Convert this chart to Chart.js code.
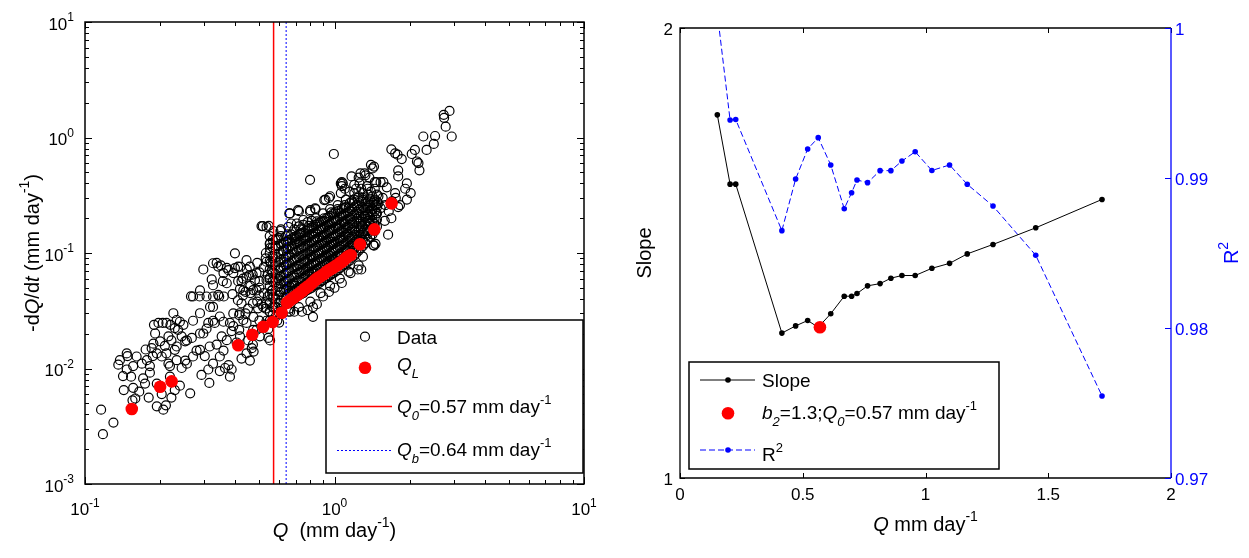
<!DOCTYPE html>
<html>
<head>
<meta charset="utf-8">
<script src="https://cdn.jsdelivr.net/npm/chart.js@4/dist/chart.umd.min.js"></script>
<style>
  html, body { margin: 0; padding: 0; background: #fff; width: 1249px; height: 558px; overflow: hidden; }
  #recession { position: absolute; left: 0; top: 0; }
  #slopefit { position: absolute; left: 620px; top: 0; }
</style>
</head>
<body>
<canvas id="recession" width="610" height="558"></canvas>
<canvas id="slopefit" width="629" height="558"></canvas>
<script>
// ---- Recession data: discharge Q (mm/day) and -dQ/dt (mm/day per day) ----
const lowFlow = [
  [0.116,0.0044],[0.118,0.0027],[0.130,0.0034],[0.136,0.0108],[0.138,0.0118],[0.142,0.0086],[0.143,0.0065],
  [0.147,0.0135],[0.148,0.0128],[0.147,0.0098],[0.153,0.0085],[0.155,0.0053],[0.156,0.0105],[0.156,0.0068],
  [0.159,0.0055],[0.161,0.0127],[0.165,0.0063],[0.169,0.0110],[0.171,0.0082],[0.174,0.0074],[0.175,0.0146],
  [0.177,0.0118],[0.180,0.0056],[0.182,0.0105],[0.182,0.0092],[0.185,0.0150],[0.187,0.0128],[0.188,0.0164],
  [0.189,0.0239],[0.191,0.0201],[0.194,0.0047],[0.194,0.0074],[0.194,0.0135],[0.197,0.0248],[0.200,0.0172],
  [0.203,0.0127],[0.203,0.0060],[0.205,0.0248],[0.206,0.0044],[0.209,0.0157],[0.211,0.0048],[0.212,0.0248],
  [0.212,0.0135],[0.216,0.0110],[0.216,0.0190],[0.219,0.0105],[0.219,0.0085],[0.220,0.0239],[0.222,0.0056],
  [0.222,0.0175],[0.226,0.0301],[0.229,0.0224],[0.229,0.0145],[0.229,0.0065],[0.233,0.0155],[0.233,0.0263],
  [0.233,0.0118],[0.236,0.0216],[0.240,0.0254],[0.240,0.0071],[0.244,0.0190],[0.244,0.0101],[0.248,0.0239],
  [0.252,0.0117],[0.252,0.0172],[0.256,0.0175],[0.256,0.0110],[0.264,0.0061],[0.266,0.0421],[0.268,0.0184],
  [0.271,0.0259],[0.271,0.0127],[0.271,0.0420],[0.280,0.0143],[0.288,0.0420],[0.289,0.0201],[0.289,0.0301],
  [0.289,0.0474],[0.289,0.0145],[0.293,0.0088],[0.298,0.0201],[0.298,0.0720],[0.302,0.0128],[0.307,0.0221],
  [0.307,0.0420],[0.312,0.0248],[0.312,0.0098],[0.315,0.0075],[0.316,0.0155],[0.317,0.0341],[0.322,0.0590],
  [0.326,0.0259],[0.326,0.0341],[0.326,0.0526],[0.326,0.0110],[0.326,0.0815],[0.326,0.0420],[0.331,0.0248],
  [0.337,0.0161],[0.337,0.0820],[0.342,0.0434],[0.342,0.0763],[0.345,0.0420],[0.347,0.0282],[0.347,0.0127],
  [0.347,0.0095],[0.350,0.0780],[0.353,0.0190],[0.357,0.0570],[0.359,0.0143],[0.359,0.0254],[0.359,0.0670],
  [0.360,0.0420],[0.364,0.0101],[0.370,0.0547],[0.370,0.0176],[0.370,0.0744],[0.376,0.0107],[0.376,0.0710],
  [0.381,0.0248],[0.381,0.0085],[0.387,0.0098],[0.387,0.0211],[0.390,0.0440],[0.393,0.0233],[0.393,0.0300],
  [0.393,0.0670],[0.399,0.0994],[0.399,0.0740],[0.405,0.0168],[0.410,0.0390],[0.411,0.0763],[0.411,0.0570],
  [0.415,0.0216],[0.415,0.0290],[0.417,0.0301],[0.418,0.0190],[0.418,0.0490],[0.420,0.0760],[0.424,0.0366],
  [0.424,0.0122],[0.424,0.0570],[0.430,0.0430],[0.430,0.0600],[0.431,0.0474],[0.431,0.0263],[0.440,0.0460],
  [0.440,0.0300],[0.444,0.0248],[0.444,0.0866],[0.444,0.0135],[0.444,0.0620],[0.445,0.0720],[0.450,0.0330],
  [0.451,0.0175],[0.455,0.0640],[0.458,0.0117],[0.458,0.0763],[0.460,0.0520],[0.460,0.0450],[0.466,0.0150],
  [0.470,0.0650],[0.471,0.0366],[0.471,0.0161],[0.472,0.0216],[0.472,0.0478],[0.473,0.0280],[0.474,0.0140],
  [0.480,0.0580],[0.487,0.0474],[0.487,0.0216],[0.487,0.0670],[0.490,0.0380],[0.490,0.0820],[0.494,0.0332],
  [0.500,0.0570],[0.500,0.0260],[0.500,0.0430],[0.500,0.0500],[0.500,0.0680],[0.502,0.0190]
];

const nearBreak = [
  [0.510,0.171],[0.510,0.036],[0.516,0.171],[0.518,0.0341],[0.520,0.045],[0.520,0.075],[0.525,0.024],
  [0.530,0.033],[0.530,0.090],[0.531,0.100],[0.534,0.168],[0.534,0.084],[0.534,0.0584],[0.534,0.0366],
  [0.534,0.0259],[0.540,0.042],[0.540,0.065],[0.543,0.0184],[0.543,0.022],[0.545,0.172],[0.550,0.031],
  [0.550,0.059],[0.551,0.110],[0.552,0.122],[0.552,0.0175],[0.555,0.082],[0.560,0.047],[0.560,0.070],
  [0.565,0.090],[0.569,0.155],[0.570,0.042],[0.580,0.115],[0.588,0.131],[0.590,0.026],[0.605,0.062],
  [0.607,0.155],[0.600,0.025],[0.620,0.030]
];

// dense middle range, grouped by discharge
const coreQ = [0.55,0.58,0.61,0.64,0.66,0.69,0.72,0.75,0.78,0.81,0.84,0.87,0.90,0.93,0.96,0.99,1.03,1.07,1.11,1.15,1.20,1.25,1.30,1.36,1.42,1.48];
const coreRates = [
  [0.026,0.031,0.037,0.044,0.052,0.061,0.072,0.085,0.100,0.120,0.140],
  [0.028,0.034,0.040,0.047,0.056,0.066,0.078,0.092,0.110,0.130],
  [0.033,0.039,0.046,0.054,0.063,0.074,0.087,0.100,0.120,0.140,0.160],
  [0.036,0.042,0.049,0.057,0.067,0.079,0.093,0.110,0.125,0.140],
  [0.033,0.045,0.052,0.060,0.070,0.082,0.096,0.113,0.130],
  [0.040,0.047,0.055,0.064,0.075,0.088,0.100,0.120,0.138,0.160],
  [0.043,0.050,0.058,0.068,0.079,0.092,0.107,0.125,0.145,0.170],
  [0.045,0.052,0.061,0.071,0.083,0.097,0.113,0.130,0.150,0.175],
  [0.048,0.055,0.064,0.075,0.087,0.100,0.118,0.137,0.160,0.185],
  [0.050,0.058,0.068,0.079,0.092,0.107,0.124,0.144,0.167,0.190],
  [0.053,0.061,0.071,0.083,0.096,0.112,0.130,0.150,0.175,0.200],
  [0.055,0.064,0.075,0.087,0.100,0.117,0.136,0.158,0.183],
  [0.058,0.067,0.078,0.091,0.105,0.122,0.142,0.165,0.190,0.220],
  [0.061,0.070,0.082,0.095,0.110,0.128,0.148,0.172,0.200],
  [0.064,0.074,0.086,0.100,0.116,0.134,0.155,0.180,0.210,0.240],
  [0.067,0.077,0.090,0.104,0.120,0.140,0.162,0.188,0.220],
  [0.071,0.082,0.095,0.110,0.127,0.147,0.170,0.197,0.230,0.260],
  [0.076,0.087,0.100,0.116,0.134,0.155,0.180,0.210,0.240],
  [0.080,0.092,0.106,0.123,0.142,0.164,0.190,0.220,0.250,0.290],
  [0.086,0.099,0.114,0.132,0.152,0.175,0.200,0.230,0.270],
  [0.095,0.108,0.124,0.142,0.163,0.187,0.215,0.250,0.290,0.330],
  [0.105,0.120,0.137,0.157,0.180,0.205,0.235,0.270,0.310],
  [0.115,0.130,0.150,0.170,0.195,0.220,0.250,0.290,0.330],
  [0.130,0.148,0.168,0.190,0.215,0.245,0.280,0.320],
  [0.145,0.165,0.190,0.215,0.240,0.270,0.310],
  [0.170,0.195,0.220,0.250,0.280,0.320]
];

// second set of dense-range records lying between the groups above
const coreQMid = [0.565,0.595,0.625,0.65,0.675,0.705,0.735,0.765,0.795,0.825,0.855,0.885,0.915,0.945,0.975,1.01,1.05,1.09,1.13,1.175,1.225,1.275,1.33,1.39,1.45];
const coreRatesMid = [
  [0.029,0.034,0.041,0.048,0.057,0.067,0.079,0.094,0.112,0.130],
  [0.031,0.037,0.043,0.051,0.060,0.071,0.083,0.098,0.115,0.135],
  [0.035,0.041,0.048,0.056,0.065,0.076,0.089,0.104,0.122],
  [0.038,0.044,0.051,0.059,0.069,0.080,0.094,0.108,0.126,0.145],
  [0.041,0.047,0.054,0.063,0.073,0.085,0.099,0.115,0.133],
  [0.042,0.049,0.057,0.066,0.077,0.090,0.104,0.121,0.140],
  [0.044,0.051,0.059,0.069,0.080,0.094,0.109,0.127,0.148],
  [0.047,0.054,0.063,0.073,0.085,0.099,0.115,0.133,0.155],
  [0.049,0.057,0.066,0.077,0.089,0.104,0.121,0.140,0.163],
  [0.052,0.060,0.069,0.081,0.094,0.109,0.127,0.147,0.170],
  [0.054,0.063,0.073,0.085,0.098,0.114,0.133,0.154,0.180],
  [0.057,0.066,0.076,0.089,0.103,0.119,0.139,0.161,0.187],
  [0.060,0.069,0.080,0.093,0.108,0.125,0.145,0.168],
  [0.063,0.072,0.084,0.097,0.113,0.131,0.152,0.176,0.205],
  [0.066,0.076,0.088,0.102,0.118,0.137,0.158,0.184],
  [0.069,0.080,0.092,0.107,0.124,0.143,0.166,0.192,0.225],
  [0.074,0.085,0.098,0.113,0.130,0.151,0.175,0.203],
  [0.078,0.090,0.103,0.119,0.138,0.160,0.185,0.215,0.245],
  [0.084,0.096,0.110,0.127,0.147,0.170,0.196,0.225],
  [0.091,0.104,0.119,0.137,0.158,0.181,0.208,0.240,0.280],
  [0.100,0.114,0.130,0.149,0.171,0.196,0.225,0.260],
  [0.110,0.125,0.143,0.163,0.187,0.213,0.243,0.280],
  [0.122,0.139,0.159,0.181,0.206,0.235,0.268],
  [0.138,0.157,0.179,0.203,0.230,0.260,0.295],
  [0.155,0.178,0.203,0.230,0.260,0.290]
];

// scattered records inside the dense range
const coreScattered = [
  [0.570,0.0335],[0.600,0.058],[0.630,0.083],[0.655,0.047],[0.680,0.108],[0.695,0.052],[0.710,0.0725],
  [0.725,0.118],[0.740,0.056],[0.755,0.088],[0.770,0.128],[0.785,0.069],[0.800,0.096],[0.815,0.062],
  [0.830,0.138],[0.845,0.078],[0.860,0.105],[0.875,0.068],[0.890,0.128],[0.905,0.085],[0.920,0.115],
  [0.935,0.074],[0.950,0.158],[0.965,0.094],[0.980,0.125],[0.995,0.083],[1.020,0.112],[1.040,0.162],
  [1.060,0.094],[1.080,0.127],[1.100,0.178],[1.120,0.105],[1.140,0.138],[1.160,0.195],[1.185,0.120],
  [1.210,0.153],[1.235,0.200],[1.260,0.128],[1.290,0.172],[1.320,0.210],[1.350,0.158],[1.380,0.190],
  [1.410,0.230],[1.440,0.180],[1.470,0.260],[0.620,0.105],[0.640,0.125],[0.670,0.145],[0.700,0.132],
  [0.730,0.160],[0.760,0.142],[0.790,0.172],[0.820,0.155],[0.850,0.188],[0.880,0.170],[0.910,0.200],
  [0.940,0.185],[0.970,0.225],[1.000,0.200],[1.030,0.240],[1.060,0.220],[1.100,0.260],[1.140,0.245],
  [1.190,0.270],[1.240,0.300]
];

const belowEnvelope = [
  [0.653,0.031],[0.664,0.031],[0.690,0.031],[0.720,0.034],[0.740,0.031],[0.780,0.032],[0.800,0.038],
  [0.820,0.028],[0.820,0.034],[0.850,0.036],[0.880,0.045],[0.900,0.042],[0.950,0.046],[0.960,0.052],
  [1.000,0.050],[1.050,0.060],[1.070,0.055],[1.140,0.069],[1.160,0.067],[1.240,0.072],[1.250,0.078],
  [1.280,0.072],[1.300,0.093],[1.430,0.117],[1.440,0.116],[1.460,0.120],[1.640,0.144]
];

const upperScatter = [
  [0.653,0.168],[0.659,0.220],[0.663,0.220],[0.670,0.180],[0.706,0.180],[0.714,0.235],[0.720,0.230],
  [0.727,0.148],[0.750,0.193],[0.798,0.430],[0.798,0.228],[0.800,0.235],[0.836,0.244],[0.840,0.240],
  [0.910,0.287],[0.920,0.290],[0.950,0.300],[0.960,0.310],[0.994,0.720],[1.060,0.400],[1.060,0.330],
  [1.070,0.380],[1.070,0.410],[1.080,0.400],[1.100,0.360],[1.150,0.340],[1.170,0.460],[1.200,0.390],
  [1.220,0.360],[1.250,0.450],[1.260,0.400],[1.270,0.490],[1.280,0.360],[1.300,0.300],[1.320,0.490],
  [1.330,0.470],[1.350,0.380],[1.360,0.360],[1.380,0.450],[1.400,0.340],[1.400,0.580],[1.420,0.540],
  [1.440,0.560],[1.440,0.280],[1.450,0.410],[1.450,0.360],[1.470,0.220],[1.470,0.410],[1.500,0.310],
  [1.500,0.270],[1.530,0.410],[1.530,0.245],[1.560,0.300],[1.570,0.410],[1.590,0.190],[1.600,0.260],
  [1.620,0.370],[1.650,0.230],[1.690,0.200],[1.690,0.790],[1.700,0.280],[1.750,0.730],[1.750,0.330],
  [1.760,0.300],[1.790,0.710],[1.800,0.460],[1.800,0.520],[1.800,0.250],[1.830,0.260],[1.860,0.650],
  [1.920,0.360],[1.950,0.400],[1.950,0.290],[2.020,0.330],[2.040,0.720],[2.100,0.780],[2.140,0.620],
  [2.170,0.600],[2.190,0.520],[2.270,1.020],[2.340,0.780],[2.500,0.880],[2.530,1.030],[2.740,1.570],
  [2.750,1.480],[2.790,1.240],[2.890,1.700],[2.950,1.020]
];

// lower-envelope points Q_L
const qlQ = [0.154,0.200,0.2225,0.4115,0.468,0.518,0.565,0.614,0.645,0.655,0.670,0.685,0.700,0.715,0.730,0.745,0.760,0.775,
             0.790,0.805,0.820,0.835,0.850,0.870,0.890,0.910,0.930,0.950,0.970,0.990,1.010,1.030,1.050,1.070,1.090,1.110,1.130,1.161,
             1.265,1.444,1.694];
const qlRate = [0.00446,0.00696,0.00774,0.0159,0.0196,0.0230,0.0253,0.0304,0.037,0.038,0.0395,0.041,0.0425,0.044,0.0455,0.047,0.049,0.0505,
                0.052,0.054,0.056,0.058,0.060,0.062,0.064,0.066,0.069,0.071,0.073,0.075,0.077,0.079,0.082,0.084,0.087,0.090,0.093,0.0961,
                0.119,0.160,0.269];

const q0 = 0.57;   // break discharge
const qb = 0.64;   // baseflow threshold
const b2 = 1.335;  // fitted slope at Q0

// ---- Slope / R^2 as a function of threshold discharge ----
const slopeQ = [0.152,0.204,0.227,0.415,0.471,0.520,0.563,0.614,0.669,0.699,0.721,0.764,0.815,0.859,0.904,0.958,1.026,1.098,1.170,1.275,1.449,1.719];
const slopeValues = [1.807,1.653,1.653,1.322,1.338,1.350,1.335,1.365,1.404,1.404,1.410,1.427,1.432,1.444,1.450,1.450,1.466,1.477,1.498,1.519,1.556,1.619];
const r2Values = [1.001,0.99387,0.9939,0.98649,0.98993,0.99193,0.99269,0.99087,0.98795,0.98902,0.98987,0.98969,0.99049,0.99049,0.99113,0.99175,0.9905,0.99087,0.98958,0.98813,0.98485,0.97547];

const rightXTicks = [0, 0.5, 1, 1.5, 2];
const slopeTicks = [1, 2];
const r2Ticks = [0.97, 0.98, 0.99, 1];

// ---- text helpers (italics, sub/superscripts) ----
const FONT = '"Liberation Sans", Arial, Helvetica, sans-serif';
function partFont(p, size) {
  const s = (p.sub || p.sup) ? Math.round(size * 0.68) : size;
  return (p.i ? 'italic ' : '') + s + 'px ' + FONT;
}
function richWidth(ctx, parts, size) {
  let w = 0;
  for (const p of parts) { ctx.font = partFont(p, size); w += ctx.measureText(p.t).width; }
  return w;
}
function drawRich(ctx, parts, x, y, size, color, align) {
  const w = richWidth(ctx, parts, size);
  let cx = align === 'center' ? x - w / 2 : (align === 'right' ? x - w : x);
  ctx.fillStyle = color;
  ctx.textBaseline = 'alphabetic';
  ctx.textAlign = 'left';
  for (const p of parts) {
    ctx.font = partFont(p, size);
    const dy = p.sub ? size * 0.35 : (p.sup ? -size * 0.48 : 0);
    ctx.fillText(p.t, cx, y + dy);
    cx += ctx.measureText(p.t).width;
  }
}
function drawVertical(ctx, parts, x, y, size, color) {
  ctx.save();
  ctx.translate(x, y);
  ctx.rotate(-Math.PI / 2);
  drawRich(ctx, parts, 0, 0, size, color, 'center');
  ctx.restore();
}
function logTicks(min, max) {
  const out = [];
  for (let e = Math.round(Math.log10(min)); e <= Math.round(Math.log10(max)); e++) {
    for (let m = 1; m <= 9; m++) {
      const v = m * Math.pow(10, e);
      if (v >= min * 0.999 && v <= max * 1.001) out.push({ v, major: m === 1, e });
    }
  }
  return out;
}

// ---- left panel: log-log recession plot ----
const X_MIN = 0.1, X_MAX = 10, Y_MIN = 0.001, Y_MAX = 10;
const corePairs = [
  ...coreQ.flatMap((q, i) => coreRates[i].map(r => [q, r])),
  ...coreQMid.flatMap((q, i) => coreRatesMid[i].map(r => [q, r]))
];
const observed = [...lowFlow, ...nearBreak, ...corePairs, ...coreScattered, ...belowEnvelope, ...upperScatter];
const toPoints = pairs => pairs.map(([q, r]) => ({ x: q, y: r }));

const unitParts = [{ t: ' mm day' }, { t: '-1', sup: true }];

const recessionFrame = {
  id: 'recessionFrame',
  afterDatasetsDraw(chart) {
    const { ctx, chartArea: a, scales: { x, y } } = chart;
    ctx.save();
    ctx.strokeStyle = '#000';
    ctx.lineWidth = 1;
    ctx.beginPath();
    for (const t of logTicks(X_MIN, X_MAX)) {
      const px = Math.round(x.getPixelForValue(t.v)) + 0.5;
      const len = t.major ? 7 : 4;
      ctx.moveTo(px, a.bottom); ctx.lineTo(px, a.bottom - len);
      ctx.moveTo(px, a.top); ctx.lineTo(px, a.top + len);
    }
    for (const t of logTicks(Y_MIN, Y_MAX)) {
      const py = Math.round(y.getPixelForValue(t.v)) + 0.5;
      const len = t.major ? 7 : 4;
      ctx.moveTo(a.left, py); ctx.lineTo(a.left + len, py);
      ctx.moveTo(a.right, py); ctx.lineTo(a.right - len, py);
    }
    ctx.stroke();
    ctx.lineWidth = 1.5;
    ctx.strokeRect(a.left, a.top, a.right - a.left, a.bottom - a.top);

    for (const t of logTicks(X_MIN, X_MAX)) {
      if (!t.major) continue;
      drawRich(ctx, [{ t: '10' }, { t: String(t.e), sup: true }], x.getPixelForValue(t.v), a.bottom + 31, 17, '#000', 'center');
    }
    for (const t of logTicks(Y_MIN, Y_MAX)) {
      if (!t.major) continue;
      drawRich(ctx, [{ t: '10' }, { t: String(t.e), sup: true }], a.left - 11, y.getPixelForValue(t.v) + 7.5, 17, '#000', 'right');
    }

    drawRich(ctx, [{ t: 'Q', i: true }, { t: '  (mm day' }, { t: '-1', sup: true }, { t: ')' }],
      x.getPixelForValue(1), a.bottom + 53, 20, '#000', 'center');
    drawVertical(ctx, [{ t: '-d' }, { t: 'Q', i: true }, { t: '/d' }, { t: 't', i: true }, { t: ' (mm day' }, { t: '-1', sup: true }, { t: ')' }],
      39, (a.top + a.bottom) / 2, 20, '#000');

    // legend
    const L = a.left + 241, T = a.top + 298, R = a.right - 1, B = a.bottom - 11;
    ctx.fillStyle = '#fff';
    ctx.fillRect(L, T, R - L, B - T);
    ctx.lineWidth = 1.5;
    ctx.strokeStyle = '#000';
    ctx.strokeRect(L, T, R - L, B - T);
    const mx = L + 39, tx = L + 71;
    ctx.lineWidth = 1.2;
    ctx.beginPath(); ctx.arc(mx, T + 16.7, 4.5, 0, Math.PI * 2); ctx.stroke();
    drawRich(ctx, [{ t: 'Data' }], tx, T + 24, 19, '#000', 'left');
    ctx.fillStyle = '#ff0000';
    ctx.beginPath(); ctx.arc(mx, T + 47.7, 6.3, 0, Math.PI * 2); ctx.fill();
    drawRich(ctx, [{ t: 'Q', i: true }, { t: 'L', i: true, sub: true }], tx, T + 51, 19, '#000', 'left');
    ctx.strokeStyle = '#ff0000';
    ctx.lineWidth = 1.5;
    ctx.beginPath(); ctx.moveTo(L + 11, T + 86.5); ctx.lineTo(L + 66, T + 86.5); ctx.stroke();
    drawRich(ctx, [{ t: 'Q', i: true }, { t: '0', i: true, sub: true }, { t: '=' + q0.toFixed(2) }, ...unitParts], tx, T + 93, 19, '#000', 'left');
    ctx.strokeStyle = '#0000ff';
    ctx.lineWidth = 1;
    ctx.setLineDash([2, 2]);
    ctx.beginPath(); ctx.moveTo(L + 11, T + 130.5); ctx.lineTo(L + 66, T + 130.5); ctx.stroke();
    ctx.setLineDash([]);
    drawRich(ctx, [{ t: 'Q', i: true }, { t: 'b', i: true, sub: true }, { t: '=' + qb.toFixed(2) }, ...unitParts], tx, T + 136, 19, '#000', 'left');
    ctx.restore();
  }
};

new Chart(document.getElementById('recession'), {
  type: 'scatter',
  data: {
    datasets: [
      { label: 'Data', data: toPoints(observed), showLine: false, pointRadius: 4.5, pointBorderWidth: 1.2,
        pointBorderColor: '#000', pointBackgroundColor: 'rgba(0,0,0,0)', order: 3 },
      { label: 'Q_L', data: qlQ.map((q, i) => ({ x: q, y: qlRate[i] })), showLine: false, pointRadius: 6.3,
        pointBorderWidth: 0, pointBackgroundColor: '#ff0000', pointBorderColor: '#ff0000', order: 0 },
      { label: 'Q_0', type: 'line', data: [{ x: q0, y: Y_MIN }, { x: q0, y: Y_MAX }], borderColor: '#ff0000',
        borderWidth: 1.5, pointRadius: 0, order: 1 },
      { label: 'Q_b', type: 'line', data: [{ x: qb, y: Y_MIN }, { x: qb, y: Y_MAX }], borderColor: '#0000ff',
        borderWidth: 1, borderDash: [2, 2], pointRadius: 0, order: 2 }
    ]
  },
  options: {
    responsive: false, animation: false, devicePixelRatio: 1, events: [],
    layout: { padding: { top: 22, right: 26, left: 0, bottom: 0 } },
    plugins: { legend: { display: false }, tooltip: { enabled: false } },
    scales: {
      x: { type: 'logarithmic', min: X_MIN, max: X_MAX, ticks: { display: false },
           grid: { display: false, drawTicks: false }, border: { display: false },
           afterFit: s => { s.height = 74; } },
      y: { type: 'logarithmic', min: Y_MIN, max: Y_MAX, ticks: { display: false },
           grid: { display: false, drawTicks: false }, border: { display: false },
           afterFit: s => { s.width = 85; } }
    }
  },
  plugins: [recessionFrame]
});

// ---- right panel: slope and R^2 ----
const slopeFrame = {
  id: 'slopeFrame',
  afterDatasetsDraw(chart) {
    const { ctx, chartArea: a, scales: { x, y, y2 } } = chart;
    ctx.save();
    ctx.lineWidth = 1;
    ctx.strokeStyle = '#000';
    ctx.beginPath();
    for (const v of rightXTicks) {
      const px = Math.round(x.getPixelForValue(v)) + 0.5;
      ctx.moveTo(px, a.bottom); ctx.lineTo(px, a.bottom - 5);
      ctx.moveTo(px, a.top); ctx.lineTo(px, a.top + 5);
    }
    for (const v of slopeTicks) {
      const py = Math.round(y.getPixelForValue(v)) + 0.5;
      ctx.moveTo(a.left, py); ctx.lineTo(a.left + 5, py);
    }
    ctx.stroke();
    ctx.lineWidth = 1.3;
    ctx.beginPath();
    ctx.moveTo(a.right, a.top); ctx.lineTo(a.left, a.top); ctx.lineTo(a.left, a.bottom); ctx.lineTo(a.right, a.bottom);
    ctx.stroke();
    ctx.strokeStyle = '#0000ff';
    ctx.beginPath(); ctx.moveTo(a.right, a.top); ctx.lineTo(a.right, a.bottom); ctx.stroke();
    ctx.lineWidth = 1;
    ctx.beginPath();
    for (const v of r2Ticks) {
      const py = Math.round(y2.getPixelForValue(v)) + 0.5;
      ctx.moveTo(a.right, py); ctx.lineTo(a.right - 6, py);
    }
    ctx.stroke();

    for (const v of rightXTicks) drawRich(ctx, [{ t: String(v) }], x.getPixelForValue(v), a.bottom + 22, 17, '#000', 'center');
    for (const v of slopeTicks) drawRich(ctx, [{ t: String(v) }], a.left - 7, y.getPixelForValue(v) + 6.5, 17, '#000', 'right');
    for (const v of r2Ticks) drawRich(ctx, [{ t: String(v) }], a.right + 4, y2.getPixelForValue(v) + 7, 17, '#0000ff', 'left');

    drawRich(ctx, [{ t: 'Q', i: true }, ...unitParts], (a.left + a.right) / 2, a.bottom + 53, 20, '#000', 'center');
    drawVertical(ctx, [{ t: 'Slope' }], 31, (a.top + a.bottom) / 2, 20, '#000');
    drawVertical(ctx, [{ t: 'R' }, { t: '2', sup: true }], a.right + 67, (a.top + a.bottom) / 2, 20, '#0000ff');

    // legend
    const L = a.left + 9, T = a.top + 334, R = a.left + 319, B = a.bottom - 9;
    ctx.fillStyle = '#fff';
    ctx.fillRect(L, T, R - L, B - T);
    ctx.lineWidth = 1.5;
    ctx.strokeStyle = '#000';
    ctx.strokeRect(L, T, R - L, B - T);
    const l0 = L + 11, l1 = L + 66, mx = L + 39, tx = L + 73;
    ctx.lineWidth = 1;
    ctx.beginPath(); ctx.moveTo(l0, T + 18); ctx.lineTo(l1, T + 18); ctx.stroke();
    ctx.fillStyle = '#000';
    ctx.beginPath(); ctx.arc(mx, T + 18, 2.8, 0, Math.PI * 2); ctx.fill();
    drawRich(ctx, [{ t: 'Slope' }], tx, T + 25, 19, '#000', 'left');
    ctx.fillStyle = '#ff0000';
    ctx.beginPath(); ctx.arc(mx, T + 51.3, 6.3, 0, Math.PI * 2); ctx.fill();
    drawRich(ctx, [{ t: 'b', i: true }, { t: '2', i: true, sub: true }, { t: '=' + b2.toFixed(1) + ';' },
      { t: 'Q', i: true }, { t: '0', i: true, sub: true }, { t: '=' + q0.toFixed(2) }, ...unitParts], tx, T + 57, 19, '#000', 'left');
    ctx.strokeStyle = '#0000ff';
    ctx.setLineDash([6, 3]);
    ctx.beginPath(); ctx.moveTo(l0, T + 88); ctx.lineTo(l1, T + 88); ctx.stroke();
    ctx.setLineDash([]);
    ctx.fillStyle = '#0000ff';
    ctx.beginPath(); ctx.arc(mx, T + 88, 2.8, 0, Math.PI * 2); ctx.fill();
    drawRich(ctx, [{ t: 'R' }, { t: '2', sup: true }], tx, T + 99, 19, '#000', 'left');
    ctx.restore();
  }
};

new Chart(document.getElementById('slopefit'), {
  type: 'line',
  data: {
    datasets: [
      { label: 'b2', data: [{ x: q0, y: b2 }], yAxisID: 'y', showLine: false, pointRadius: 6.3,
        pointBorderWidth: 0, pointBackgroundColor: '#ff0000', order: 0 },
      { label: 'Slope', data: slopeQ.map((q, i) => ({ x: q, y: slopeValues[i] })), yAxisID: 'y',
        borderColor: '#000', borderWidth: 1, pointRadius: 2.8, pointBorderWidth: 0,
        pointBackgroundColor: '#000', tension: 0, order: 1 },
      { label: 'R2', data: slopeQ.map((q, i) => ({ x: q, y: r2Values[i] })), yAxisID: 'y2',
        borderColor: '#0000ff', borderWidth: 1, borderDash: [6, 3], pointRadius: 2.8, pointBorderWidth: 0,
        pointBackgroundColor: '#0000ff', tension: 0, clip: 0, order: 2 }
    ]
  },
  options: {
    responsive: false, animation: false, devicePixelRatio: 1, events: [],
    layout: { padding: { top: 28, right: 0, left: 0, bottom: 0 } },
    plugins: { legend: { display: false }, tooltip: { enabled: false } },
    scales: {
      x: { type: 'linear', min: 0, max: 2, ticks: { display: false },
           grid: { display: false, drawTicks: false }, border: { display: false },
           afterFit: s => { s.height = 80; } },
      y: { type: 'linear', position: 'left', min: 1, max: 2, ticks: { display: false },
           grid: { display: false, drawTicks: false }, border: { display: false },
           afterFit: s => { s.width = 60; } },
      y2: { type: 'linear', position: 'right', min: 0.97, max: 1, ticks: { display: false },
            grid: { display: false, drawTicks: false }, border: { display: false },
            afterFit: s => { s.width = 78; } }
    }
  },
  plugins: [slopeFrame]
});
</script>
</body>
</html>
